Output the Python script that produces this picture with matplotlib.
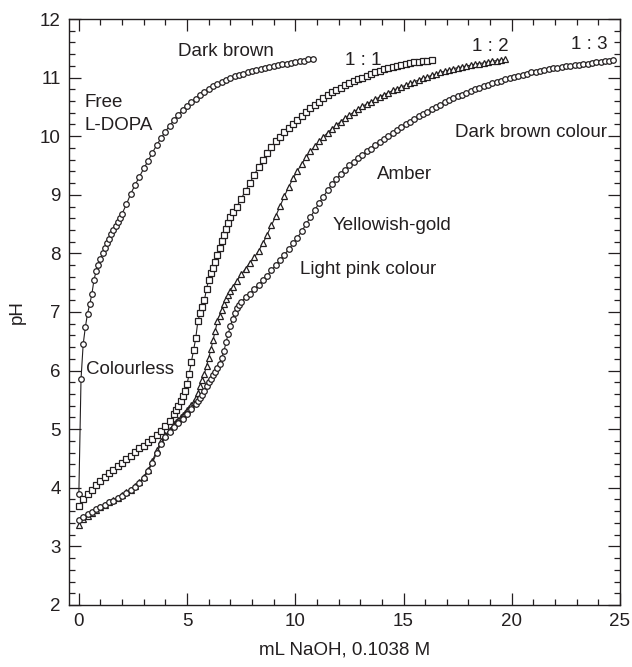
import numpy as np
import matplotlib.pyplot as plt
from matplotlib.ticker import MultipleLocator

plt.rcParams['font.family'] = ['Liberation Sans', 'DejaVu Sans']
ink = '#231f20'


def steps(a, b, h):
    # burette readings, mL
    return np.round(np.arange(a, b + h / 2, h), 2)


# Free L-DOPA
free_x = np.concatenate([steps(0.0, 2.0, 0.1), steps(2.2, 10.8, 0.2)])
free_y = [3.89, 5.85, 6.45, 6.74, 6.97, 7.13, 7.30, 7.55, 7.70, 7.81,
          7.91, 8.00, 8.09, 8.17, 8.25, 8.33, 8.40, 8.47, 8.54, 8.61,
          8.68,
          8.84, 9.02, 9.17, 9.31, 9.45, 9.58, 9.72, 9.85, 9.97, 10.08,
          10.18, 10.28, 10.37, 10.45, 10.52, 10.58, 10.64, 10.70, 10.76, 10.81,
          10.85, 10.89, 10.93, 10.96, 10.99, 11.02, 11.04, 11.07, 11.09, 11.11,
          11.13, 11.15, 11.16, 11.18, 11.20, 11.21, 11.23, 11.24, 11.25, 11.26,
          11.28, 11.29, 11.31, 11.32]

# 1 : 1
r11_x = np.concatenate([steps(0.0, 4.4, 0.2), steps(4.5, 7.1, 0.1), steps(7.3, 16.3, 0.2)])
r11_y = [3.69, 3.80, 3.89, 3.97, 4.05, 4.12, 4.19, 4.25, 4.31, 4.37,
         4.43, 4.49, 4.55, 4.61, 4.68, 4.72, 4.78, 4.84, 4.90, 4.97,
         5.05, 5.14, 5.26,
         5.32, 5.40, 5.48, 5.56, 5.66, 5.77, 5.95, 6.15, 6.35, 6.55,
         6.85, 6.98, 7.08, 7.20, 7.40, 7.55, 7.66, 7.75, 7.86, 7.98,
         8.10, 8.22, 8.32, 8.42, 8.52, 8.62, 8.70,
         8.80, 8.93, 9.07, 9.20, 9.34, 9.47, 9.60, 9.72, 9.82, 9.91,
         9.99, 10.07, 10.14, 10.21, 10.28, 10.35, 10.42, 10.48, 10.54, 10.59,
         10.65, 10.70, 10.75, 10.79, 10.83, 10.87, 10.90, 10.94, 10.97, 11.00,
         11.03, 11.06, 11.09, 11.11, 11.14, 11.16, 11.18, 11.20, 11.22, 11.24,
         11.25, 11.26, 11.27, 11.28, 11.29, 11.30]

# 1 : 2
r12_x = np.concatenate([steps(0.0, 4.4, 0.2), steps(4.5, 7.1, 0.1), steps(7.3, 19.7, 0.2)])
r12_y = [3.37, 3.46, 3.52, 3.57, 3.62, 3.67, 3.71, 3.75, 3.79, 3.83,
         3.87, 3.92, 3.97, 4.03, 4.10, 4.18, 4.30, 4.46, 4.64, 4.79,
         4.90, 4.99, 5.08,
         5.12, 5.16, 5.20, 5.24, 5.28, 5.32, 5.37, 5.42, 5.47, 5.53,
         5.62, 5.73, 5.84, 5.95, 6.08, 6.22, 6.36, 6.52, 6.68, 6.84,
         6.93, 7.04, 7.14, 7.22, 7.29, 7.36, 7.42,
         7.53, 7.64, 7.74, 7.84, 7.93, 8.04, 8.17, 8.32, 8.48, 8.64,
         8.81, 8.98, 9.14, 9.28, 9.41, 9.53, 9.64, 9.74, 9.83, 9.91,
         9.99, 10.06, 10.13, 10.19, 10.25, 10.31, 10.36, 10.41, 10.46, 10.51,
         10.55, 10.59, 10.63, 10.67, 10.71, 10.74, 10.78, 10.81, 10.84, 10.87,
         10.90, 10.93, 10.96, 10.99, 11.01, 11.04, 11.06, 11.09, 11.11, 11.13,
         11.15, 11.17, 11.18, 11.20, 11.21, 11.23, 11.24, 11.25, 11.27, 11.28,
         11.29, 11.30, 11.31]

# 1 : 3
r13_x = np.concatenate([steps(0.0, 5.4, 0.2), steps(5.5, 7.5, 0.1), steps(7.7, 24.7, 0.2)])
r13_y = [3.45, 3.50, 3.55, 3.59, 3.63, 3.67, 3.71, 3.75, 3.78, 3.82,
         3.86, 3.91, 3.96, 4.02, 4.09, 4.17, 4.28, 4.43, 4.60, 4.75,
         4.86, 4.95, 5.03, 5.10, 5.18, 5.26, 5.34, 5.43,
         5.48, 5.53, 5.59, 5.66, 5.73, 5.80, 5.86, 5.92, 5.98, 6.05,
         6.12, 6.22, 6.33, 6.48, 6.63, 6.76, 6.88, 6.98, 7.06, 7.12,
         7.17,
         7.25, 7.31, 7.39, 7.46, 7.54, 7.62, 7.71, 7.80, 7.89, 7.98,
         8.07, 8.17, 8.27, 8.38, 8.50, 8.62, 8.74, 8.86, 8.97, 9.08,
         9.18, 9.27, 9.35, 9.43, 9.50, 9.56, 9.62, 9.68, 9.74, 9.79,
         9.85, 9.90, 9.95, 10.00, 10.05, 10.10, 10.15, 10.20, 10.25, 10.30,
         10.34, 10.38, 10.42, 10.46, 10.50, 10.54, 10.58, 10.62, 10.65, 10.68,
         10.71, 10.74, 10.77, 10.80, 10.83, 10.85, 10.88, 10.90, 10.93, 10.95,
         10.97, 10.99, 11.01, 11.03, 11.05, 11.07, 11.09, 11.10, 11.12, 11.13,
         11.15, 11.16, 11.17, 11.18, 11.19, 11.20, 11.21, 11.22, 11.23, 11.24,
         11.25, 11.26, 11.27, 11.28, 11.29, 11.30]

fig = plt.figure(figsize=(6.32, 6.67), dpi=100)
ax = fig.add_axes([0.109, 0.093, 0.872, 0.8785])

style = dict(color=ink, lw=0.8, markerfacecolor='white', markeredgecolor=ink,
             markeredgewidth=0.9)
ax.plot(free_x, free_y, marker='o', ms=4.0, **style)
ax.plot(r11_x, r11_y, marker='s', ms=4.0, **style)
ax.plot(r12_x, r12_y, marker='^', ms=4.3, **style)
ax.plot(r13_x, r13_y, marker='o', ms=4.0, **style)

fs = 13.5
tk = dict(fontsize=fs, color=ink)
ax.text(6.81, 11.44, 'Dark brown', ha='center', va='center', **tk)
ax.text(0.28, 10.57, 'Free', ha='left', va='center', **tk)
ax.text(0.28, 10.19, 'L-DOPA', ha='left', va='center', **tk)
ax.text(13.16, 11.29, '1 : 1', ha='center', va='center', **tk)
ax.text(19.03, 11.53, '1 : 2', ha='center', va='center', **tk)
ax.text(23.6, 11.57, '1 : 3', ha='center', va='center', **tk)
ax.text(24.39, 10.06, 'Dark brown colour', ha='right', va='center', **tk)
ax.text(15.06, 9.35, 'Amber', ha='center', va='center', **tk)
ax.text(11.73, 8.48, 'Yellowish-gold', ha='left', va='center', **tk)
ax.text(10.21, 7.73, 'Light pink colour', ha='left', va='center', **tk)
ax.text(0.32, 6.01, 'Colourless', ha='left', va='center', **tk)

ax.set_xlim(-0.46, 25)
ax.set_ylim(2, 12)
ax.xaxis.set_major_locator(MultipleLocator(5))
ax.xaxis.set_minor_locator(MultipleLocator(1))
ax.yaxis.set_major_locator(MultipleLocator(1))
ax.yaxis.set_minor_locator(MultipleLocator(0.2))
ax.tick_params(which='both', direction='in', top=True, right=True,
               color=ink, width=0.9, labelsize=fs, labelcolor=ink)
ax.tick_params(which='major', length=8.5, pad=6)
ax.tick_params(which='minor', length=4.3)
for s in ax.spines.values():
    s.set_color(ink)
    s.set_linewidth(1.0)

ax.set_xlabel('mL NaOH, 0.1038 M', fontsize=fs, color=ink, labelpad=8)
ax.set_ylabel('pH', fontsize=fs, color=ink, labelpad=10)

fig.savefig('out.png', dpi=100)
